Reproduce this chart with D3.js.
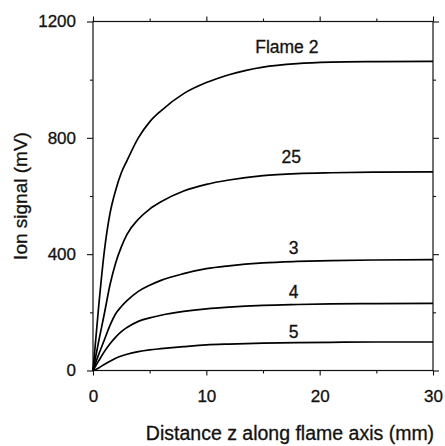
<!DOCTYPE html>
<html>
<head>
<meta charset="utf-8">
<script src="https://cdn.jsdelivr.net/npm/d3@7"></script>
<style>
  html, body { margin: 0; padding: 0; background: #fff; }
  svg { display: block; }
  text { font-family: "Liberation Sans", Arial, sans-serif; fill: #111; stroke: #111; stroke-width: 0.3px; }
</style>
</head>
<body>
<svg id="chart" width="445" height="446"></svg>
<script>
// Distance along the flame axis (mm)
const zValues = [0, 0.5, 1, 1.5, 2, 2.5, 3, 4, 5, 6, 8, 10, 12, 15, 18, 21, 25, 30];

// Ion signal (mV) for each flame
const flame2  = [0, 220, 410, 540, 620, 680, 722, 800, 855, 893, 952, 990, 1017, 1043, 1055, 1060, 1062, 1063];
const flame25 = [0, 100, 195, 295, 370, 425, 468, 520, 555, 580, 617, 640, 655, 670, 677, 680, 682, 683];
const flame3  = [0, 55, 105, 155, 195, 220, 240, 272, 293, 310, 333, 350, 360, 370, 375, 378, 380, 381];
const flame4  = [0, 33, 65, 92, 115, 134, 148, 169, 181, 190, 203, 212, 218, 224, 227, 229, 230, 231];
const flame5  = [0, 9, 21, 32, 42, 50, 56, 65, 71, 75, 82, 88, 91, 94, 96, 97, 98, 98];

const seriesNames  = ["Flame 2", "25", "3", "4", "5"];
const seriesValues = [flame2, flame25, flame3, flame4, flame5];
// where each curve's label sits (z position, signal level just above the curve)
const labelZ = [17.1, 17.5, 17.7, 17.7, 17.7];
const labelV = [1090, 715, 400, 248, 112];

const xTicks = [0, 10, 20, 30];
const xMinorTicks = [5, 15, 25];
const yTicks = [0, 400, 800, 1200];
const yMinorTicks = [200, 600, 1000];

const svg = d3.select("#chart");
const plotLeft = 93, plotRight = 433, plotTop = 21.5, plotBottom = 370.5;

const x = d3.scaleLinear().domain([0, 30]).range([plotLeft, plotRight]);
const y = d3.scaleLinear().domain([0, 1200]).range([plotBottom, plotTop]);

const axisColor = "#111";

// frame
svg.append("rect")
  .attr("x", plotLeft).attr("y", plotTop)
  .attr("width", plotRight - plotLeft).attr("height", plotBottom - plotTop)
  .attr("fill", "none").attr("stroke", axisColor).attr("stroke-width", 1.2);

function styleAxis(g) {
  g.select(".domain").remove();
  g.selectAll(".tick line").attr("stroke", axisColor).attr("stroke-width", 1.1);
  g.selectAll(".tick text")
    .style("font-family", '"Liberation Sans", Arial, sans-serif')
    .style("font-size", "17px")
    .attr("fill", "#111");
}

// bottom axis
svg.append("g").attr("transform", `translate(0,${plotBottom})`)
  .call(d3.axisBottom(x).tickValues(xTicks).tickSize(5).tickPadding(14).tickFormat(d3.format("d")))
  .call(styleAxis);
svg.append("g").attr("transform", `translate(0,${plotBottom})`)
  .call(d3.axisBottom(x).tickValues(xMinorTicks).tickSize(3).tickFormat(""))
  .call(styleAxis);

// top axis
svg.append("g").attr("transform", `translate(0,${plotTop})`)
  .call(d3.axisTop(x).tickValues(xTicks).tickSize(5).tickFormat(""))
  .call(styleAxis);
svg.append("g").attr("transform", `translate(0,${plotTop})`)
  .call(d3.axisTop(x).tickValues(xMinorTicks).tickSize(3).tickFormat(""))
  .call(styleAxis);

// left axis
svg.append("g").attr("transform", `translate(${plotLeft},0)`)
  .call(d3.axisLeft(y).tickValues(yTicks).tickSize(6).tickPadding(11).tickFormat(d3.format("d")))
  .call(styleAxis);
svg.append("g").attr("transform", `translate(${plotLeft},0)`)
  .call(d3.axisLeft(y).tickValues(yMinorTicks).tickSize(3).tickFormat(""))
  .call(styleAxis);

// right axis
svg.append("g").attr("transform", `translate(${plotRight},0)`)
  .call(d3.axisRight(y).tickValues(yTicks).tickSize(6).tickFormat(""))
  .call(styleAxis);
svg.append("g").attr("transform", `translate(${plotRight},0)`)
  .call(d3.axisRight(y).tickValues(yMinorTicks).tickSize(3).tickFormat(""))
  .call(styleAxis);

// curves
const line = d3.line()
  .x((d, i) => x(zValues[i]))
  .y(d => y(d))
  .curve(d3.curveMonotoneX);

svg.append("g").selectAll("path")
  .data(seriesValues)
  .join("path")
  .attr("d", d => line(d))
  .attr("fill", "none")
  .attr("stroke", "#000")
  .attr("stroke-width", 1.7)
  .attr("stroke-linejoin", "round");

// curve labels
svg.append("g").selectAll("text")
  .data(seriesNames)
  .join("text")
  .attr("x", (d, i) => x(labelZ[i]))
  .attr("y", (d, i) => y(labelV[i]))
  .attr("text-anchor", "middle")
  .style("font-size", "17.5px")
  .text(d => d);

// axis titles
svg.append("text")
  .attr("x", 290).attr("y", 440)
  .attr("text-anchor", "middle")
  .style("font-size", "19.5px")
  .text("Distance z along flame axis (mm)");

svg.append("text")
  .attr("transform", "translate(27,196) rotate(-90)")
  .attr("text-anchor", "middle")
  .style("font-size", "19px")
  .text("Ion signal (mV)");
</script>
</body>
</html>
